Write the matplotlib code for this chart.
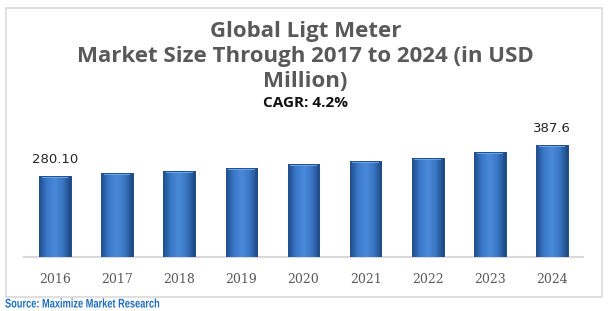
import matplotlib

matplotlib.use("Agg")
import matplotlib.pyplot as plt
import numpy as np
from matplotlib.colors import LinearSegmentedColormap
from matplotlib.font_manager import FontProperties
from matplotlib.patches import PathPatch, Rectangle
from matplotlib.text import TextPath
from matplotlib.transforms import Affine2D, IdentityTransform

years = ["2016", "2017", "2018", "2019", "2020", "2021", "2022", "2023", "2024"]
market_size = [280.10, 288.5, 297.0, 306.5, 319.5, 330.0, 341.0, 362.0, 387.6]
value_labels = {0: "280.10", 8: "387.6"}
title_lines = ["Global Ligt Meter", "Market Size Through 2017 to 2024 (in USD", "Million)"]
cagr_text = "CAGR: 4.2%"
source_text = "Source: Maximize Market Research"

W, H = 611, 311
fig = plt.figure(figsize=(W / 100, H / 100), dpi=100)
fig.patch.set_facecolor("white")

# outer light frame
fig.patches.append(Rectangle((6 / W, 1 - 297 / H), 596 / W, 289 / H, transform=fig.transFigure,
                             fill=False, edgecolor="#d9d9d9", linewidth=1.2))

ax = fig.add_axes([24 / W, 1 - 256.7 / H, 559 / W, 136.7 / H])
x = np.arange(len(years))
bars = ax.bar(x, market_size, width=0.51, color="#3b78c6", edgecolor="#24508e", linewidth=0.6, zorder=2)

# horizontal gradient + lighter top bevel for each bar
shade = LinearSegmentedColormap.from_list("bar", ["#1f4c8c", "#3b7acb", "#4a8ad8", "#3a76c4", "#1c4782"])
grad = np.linspace(0, 1, 64).reshape(1, -1)
for b in bars:
    bx, by, bw, bh = b.get_x(), b.get_y(), b.get_width(), b.get_height()
    im = ax.imshow(grad, cmap=shade, aspect="auto", extent=(bx, bx + bw, by, by + bh), zorder=3)
    im.set_clip_path(b)
    ax.add_patch(Rectangle((bx + bw * 0.08, by + bh - 7), bw * 0.84, 5.5, facecolor="#74b0f0",
                           edgecolor="none", alpha=0.8, zorder=4))
    ax.add_patch(Rectangle((bx, by), bw, bh, fill=False, edgecolor="#24508e", linewidth=0.7, zorder=5))

for i, txt in value_labels.items():
    ax.annotate(txt, (x[i], market_size[i]), xytext=(0, 7), textcoords="offset points",
                ha="center", va="bottom", fontsize=9.5, color="#262626", family="DejaVu Sans")

ax.set_xlim(-0.5, len(years) - 0.5)
ax.set_ylim(0, 472.7)
ax.set_xticks(x)
ax.set_xticklabels(years, family="DejaVu Serif", fontsize=9, color="#595959")
ax.tick_params(axis="x", length=0, pad=12)
ax.set_yticks([])
for side in ["left", "right", "top"]:
    ax.spines[side].set_visible(False)
ax.spines["bottom"].set_color("#d9d9d9")
ax.spines["bottom"].set_linewidth(1.5)
ax.patch.set_alpha(0)

title_y = [1 - 31 / H, 1 - 57 / H, 1 - 81 / H]
for line, yy in zip(title_lines, title_y):
    fig.text(0.5, yy, line, ha="center", va="center", fontsize=16, fontweight="bold",
             color="#595959", family="Open Sans")
fig.text(0.5, 1 - 103 / H, cagr_text, ha="center", va="center", fontsize=11, fontweight="bold",
         color="#111111", family="Open Sans")

# condensed bold source line: text path squeezed horizontally, placed in pixel coords
tp = TextPath((0, 0), source_text, size=12.5, prop=FontProperties(family="Liberation Sans", weight="bold"))
squeeze = Affine2D().scale(0.74, 1.0).translate(5, H - 307.5)
src = PathPatch(squeeze.transform_path(tp), facecolor="#1f6fc0", edgecolor="none")
src.set_transform(IdentityTransform())
fig.patches.append(src)

fig.savefig("out.png", dpi=100)
